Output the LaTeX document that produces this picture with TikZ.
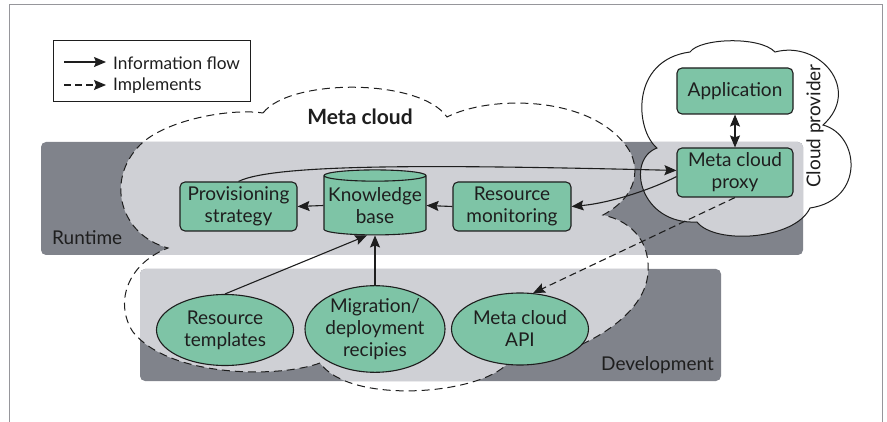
\documentclass[tikz,border=0pt]{standalone}
\usepackage{fontspec}
\setmainfont{Lato}
\usetikzlibrary{shapes.geometric,arrows.meta,calc}
\definecolor{mint}{RGB}{126,196,166}
\definecolor{banddark}{RGB}{128,131,139}
\definecolor{bandlight}{RGB}{207,208,213}
\definecolor{framegray}{RGB}{150,150,155}
\definecolor{ink}{RGB}{30,30,30}
\newcommand\myfont{\fontsize{19}{22}\selectfont}
\newcommand\legfont{\fontsize{17.3}{20}\selectfont}
\def\metapath{(263,113) .. controls (290,78) and (420,78) .. (447,117)
 .. controls (490,95) and (590,95) .. (627,147)
 .. controls (640,165) and (640,195) .. (603,215)
 .. controls (635,222) and (650,245) .. (648,272)
 .. controls (646,320) and (570,360) .. (508,363)
 .. controls (480,395) and (350,405) .. (320,363)
 .. controls (280,378) and (170,378) .. (133,332)
 .. controls (115,305) and (125,265) .. (168,248)
 .. controls (120,235) and (105,180) .. (140,145)
 .. controls (165,120) and (230,108) .. (263,113) -- cycle}
\def\provpath{(657,148) .. controls (635,130) and (630,60) .. (690,52)
 .. controls (700,38) and (760,36) .. (775,52)
 .. controls (820,40) and (862,90) .. (823,125)
 .. controls (860,135) and (865,200) .. (810,208)
 .. controls (795,240) and (715,245) .. (697,222)
 .. controls (640,225) and (625,160) .. (657,148) -- cycle}
\tikzset{
  tipA/.tip={Stealth[length=12pt,width=10pt,inset=2pt]},
  greenbox/.style={rectangle, rounded corners=5pt, fill=mint, draw=ink, line width=1.1pt,
    align=center, inner sep=0pt, text=ink, font=\myfont},
  greenell/.style={ellipse, fill=mint, draw=ink, line width=1.1pt,
    align=center, inner sep=0pt, text=ink, font=\myfont},
  flow/.style={draw=ink, line width=1.1pt, -tipA},
  impl/.style={flow, dash pattern=on 7pt off 4pt},
  lbl/.style={text=ink, font=\myfont, inner sep=0pt},
}
\begin{document}
\begin{tikzpicture}[x=1pt,y=-1pt]
\useasboundingbox (0,0) rectangle (887,422);
% frame
\draw[framegray, line width=1pt] (9,422) -- (9,5) -- (882,5) -- (882,422);
% bands
\fill[banddark, rounded corners=5pt] (41,142) rectangle (803,255);
\fill[banddark, rounded corners=5pt] (140,269) rectangle (721,381);
\begin{scope}
  \clip[rounded corners=5pt] (41,142) rectangle (803,255) (140,269) rectangle (721,381);
  \fill[bandlight] \metapath;
  \fill[bandlight] \provpath;
\end{scope}
% cloud outlines
\draw[ink, line width=1pt, dash pattern=on 8pt off 5pt] \metapath;
\draw[ink, line width=1pt] \provpath;
% labels
\node[lbl, anchor=west] (runtime) at (52,238) {Runtime};
\node[lbl, anchor=east] (devel) at (714,365) {Development};
\node[lbl, font=\fontsize{21}{24}\selectfont\bfseries] (metacloud) at (360,117) {Meta cloud};
\node[lbl, rotate=90] (cprov) at (815,126) {Cloud provider};
% nodes
\node[greenbox, minimum width=116pt, minimum height=46pt] (app) at (735,91) {Application};
\node[greenbox, minimum width=116pt, minimum height=49pt] (proxy) at (735,172.5) {Meta cloud\\proxy};
\node[greenbox, minimum width=117pt, minimum height=49pt] (prov) at (238.5,206.5) {Provisioning\\strategy};
\node[greenbox, minimum width=118pt, minimum height=49pt] (rm) at (512,206.5) {Resource\\monitoring};
\node[cylinder, shape border rotate=90, aspect=0.12, fill=mint, draw=ink, line width=1.1pt,
  minimum width=102pt, minimum height=65pt, inner sep=0pt, align=center, text=ink, font=\myfont]
  (kb) at (375,205.5) {Knowledge\\base};
\node[greenell, minimum width=137pt, minimum height=71pt] (rt) at (225,330) {Resource\\templates};
\node[greenell, minimum width=136pt, minimum height=86pt] (mig) at (375,329) {Migration/\\deployment\\recipies};
\node[greenell, minimum width=137pt, minimum height=72pt] (api) at (520,329) {Meta cloud\\API};
% connectors
\draw[flow] (kb.west) -- (prov.east);
\draw[flow] (rm.west) -- (kb.east);
\draw[flow] (prov.north) .. controls (275,163) and (450,165) .. (proxy.178);
\draw[flow] (proxy.184) .. controls (650,190) and (610,203) .. (rm.east);
\draw[flow, tipA-tipA] (app.south) -- (proxy.north);
\draw[flow] (rt.north) -- ($(kb.south)+(-8,0)$);
\draw[flow] (mig.north) -- (kb.south);
\draw[impl] (proxy.south) -- (api.70);
% legend
\draw[ink, line width=1pt] (53,41) rectangle (250,102);
\coordinate (la1) at (64,62);
\coordinate (la2) at (106,62);
\coordinate (lb1) at (64,85);
\coordinate (lb2) at (106,85);
\draw[flow] (la1) -- (la2);
\draw[impl] (lb1) -- (lb2);
\node[lbl, font=\legfont, anchor=west] (lt1) at (113,63) {Information flow};
\node[lbl, font=\legfont, anchor=west] (lt2) at (113,86) {Implements};
\end{tikzpicture}
\end{document}
